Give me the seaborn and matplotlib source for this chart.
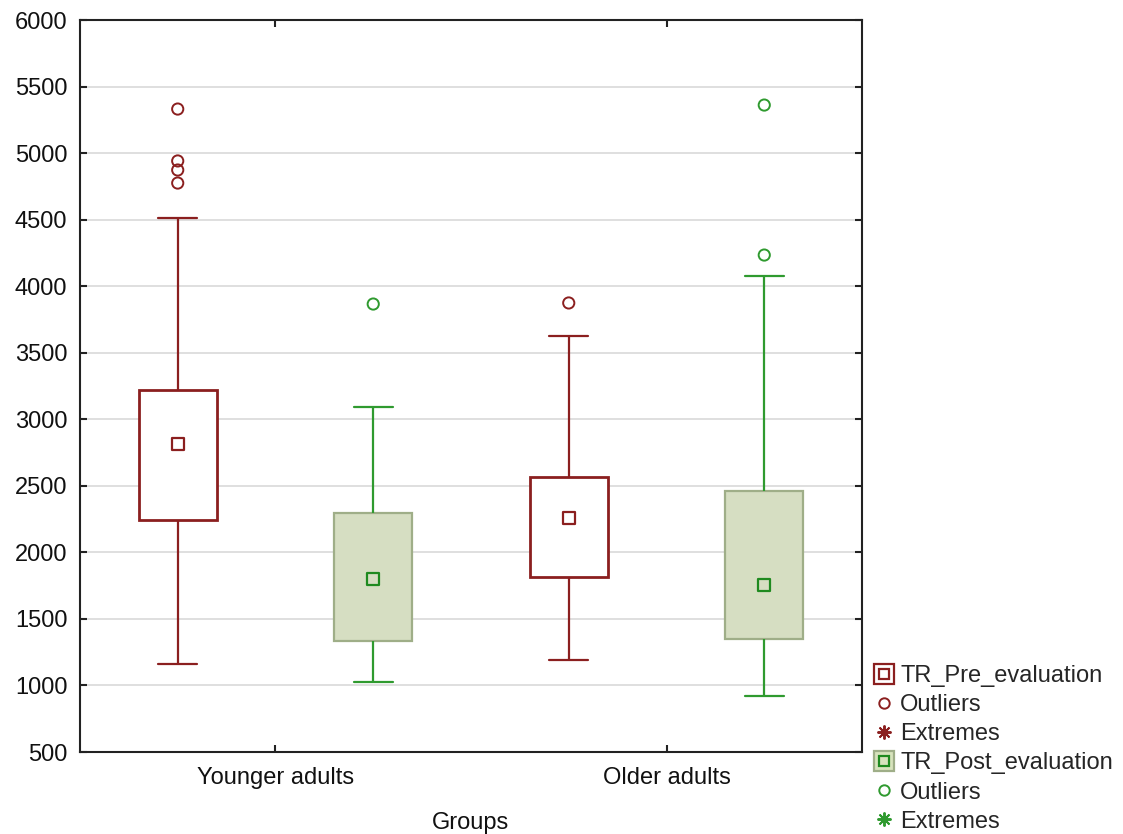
import numpy as np
import pandas as pd
import matplotlib
matplotlib.use("Agg")
import matplotlib.pyplot as plt
from matplotlib.lines import Line2D
from matplotlib.legend_handler import HandlerTuple
import seaborn as sns

# ---------------- data ----------------
groups = ["Younger adults", "Older adults"]
series = ["TR_Pre_evaluation", "TR_Post_evaluation"]

pre_low = [1160, 1190]
pre_q1 = [2243, 1815]
pre_med = [2814, 2258]
pre_q3 = [3220, 2566]
pre_high = [4515, 3626]
pre_outliers = [[5331, 4941, 4873, 4775], [3874]]

post_low = [1026, 921]
post_q1 = [1334, 1349]
post_med = [1800, 1755]
post_q3 = [2296, 2461]
post_high = [3092, 4077]
post_outliers = [[3866], [5361, 4234]]

# ---------------- styling ----------------
RED = "#8b1f1f"
GREEN = "#2f9a2f"
GREEN_DARK = "#1f8a1f"
GREEN_FILL = "#d8e3bd"
GREEN_EDGE = "#9fae88"
FS = 17

sns.set_theme(style="white")
plt.rcParams["font.family"] = ["Liberation Sans", "DejaVu Sans"]

# long table of the five box statistics (quartiles of these five points
# are exactly the read values; whiskers at min/max)
rows = []
stats = {
    series[0]: (pre_low, pre_q1, pre_med, pre_q3, pre_high),
    series[1]: (post_low, post_q1, post_med, post_q3, post_high),
}
for s, arrs in stats.items():
    for gi, g in enumerate(groups):
        for a in arrs:
            rows.append({"Groups": g, "series": s, "value": a[gi]})
df = pd.DataFrame(rows)

fig = plt.figure(figsize=(11.23, 8.34), dpi=100)
ax = fig.add_axes([0.0712, 0.0983, 0.6964, 0.8777])

common = dict(x="Groups", y="value", hue="series", order=groups,
              hue_order=series, dodge=True, width=1.0, gap=0.6,
              whis=(0, 100), showfliers=False, legend=False, ax=ax,
              medianprops={"visible": False})
pal = {series[0]: "white", series[1]: GREEN_FILL}

n0 = len(ax.patches)
sns.boxplot(data=df[df.series == series[0]], palette=pal,
            linecolor=RED, linewidth=1.6, **common)
n1 = len(ax.patches)
sns.boxplot(data=df[df.series == series[1]], palette=pal,
            linecolor=GREEN, linewidth=1.6, **common)
for p in ax.patches[n1:]:
    p.set_edgecolor(GREEN_EDGE)
for p in ax.patches[n0:n1]:
    p.set_edgecolor(RED)
    p.set_linewidth(2.0)

offsets = {series[0]: -0.25, series[1]: 0.25}

# medians
med_df = pd.DataFrame({
    "x": [gi + offsets[s] for s in series for gi in range(len(groups))],
    "value": pre_med + post_med,
    "series": [s for s in series for _ in groups],
})
for s, col in zip(series, [RED, GREEN_DARK]):
    sub = med_df[med_df.series == s]
    sns.scatterplot(data=sub, x="x", y="value", marker="s", s=80,
                    facecolor="none", edgecolor=col, linewidth=1.6, ax=ax, zorder=5)

# outliers
out_rows = []
for s, outs in zip(series, [pre_outliers, post_outliers]):
    for gi, vals in enumerate(outs):
        for v in vals:
            out_rows.append({"x": gi + offsets[s], "value": v, "series": s})
out_df = pd.DataFrame(out_rows)
for s, col in zip(series, [RED, GREEN]):
    sub = out_df[out_df.series == s]
    sns.scatterplot(data=sub, x="x", y="value", marker="o", s=65,
                    facecolor="none", edgecolor=col, linewidth=1.4, ax=ax, zorder=5)

# axes
ax.set_xlim(-0.5, 1.5)
ax.set_ylim(500, 6000)
ax.set_yticks(np.arange(500, 6001, 500))
ax.set_xticks(range(len(groups)))
ax.set_xticklabels(groups)
ax.yaxis.grid(True, color="#dcdcdc", linewidth=1.3)
ax.xaxis.grid(False)
ax.set_axisbelow(True)
for sp in ax.spines.values():
    sp.set_visible(True)
    sp.set_color("#222222")
    sp.set_linewidth(1.5)
ax.tick_params(axis="both", direction="in", length=5, width=1.5, color="#222222",
               labelsize=FS, labelcolor="#111111", top=True, right=True,
               left=True, bottom=True, labeltop=False, labelright=False, pad=9)
ax.tick_params(axis="x", pad=11)
ax.set_ylabel("")
ax.set_xlabel("Groups", fontsize=FS, color="#111111", labelpad=16)

# legend
h_pre = (Line2D([], [], marker="s", markersize=14, markerfacecolor="white",
                markeredgecolor=RED, markeredgewidth=1.6, linestyle="none"),
         Line2D([], [], marker="s", markersize=7, markerfacecolor="none",
                markeredgecolor=RED, markeredgewidth=1.6, linestyle="none"))
h_post = (Line2D([], [], marker="s", markersize=14, markerfacecolor=GREEN_FILL,
                 markeredgecolor=GREEN_EDGE, markeredgewidth=1.6, linestyle="none"),
          Line2D([], [], marker="s", markersize=7, markerfacecolor="none",
                 markeredgecolor=GREEN_DARK, markeredgewidth=1.6, linestyle="none"))
h_out_r = Line2D([], [], marker="o", markersize=7.5, markerfacecolor="none",
                 markeredgecolor=RED, markeredgewidth=1.4, linestyle="none")
h_ext_r = Line2D([], [], marker=(8, 2, 0), markersize=10, color=RED,
                 markeredgewidth=1.4, linestyle="none")
h_out_g = Line2D([], [], marker="o", markersize=7.5, markerfacecolor="none",
                 markeredgecolor=GREEN, markeredgewidth=1.4, linestyle="none")
h_ext_g = Line2D([], [], marker=(8, 2, 0), markersize=10, color=GREEN,
                 markeredgewidth=1.4, linestyle="none")
handles = [h_pre, h_out_r, h_ext_r, h_post, h_out_g, h_ext_g]
labels = ["TR_Pre_evaluation", "Outliers", "Extremes",
          "TR_Post_evaluation", "Outliers", "Extremes"]
fig.legend(handles, labels, handler_map={tuple: HandlerTuple(ndivide=1, pad=0)},
           loc="upper left", bbox_to_anchor=(0.7785, 0.2024), frameon=False,
           fontsize=FS, labelspacing=0.3, handlelength=0.8, handletextpad=0.3,
           borderaxespad=0, borderpad=0)

fig.savefig("out.png", dpi=100)
